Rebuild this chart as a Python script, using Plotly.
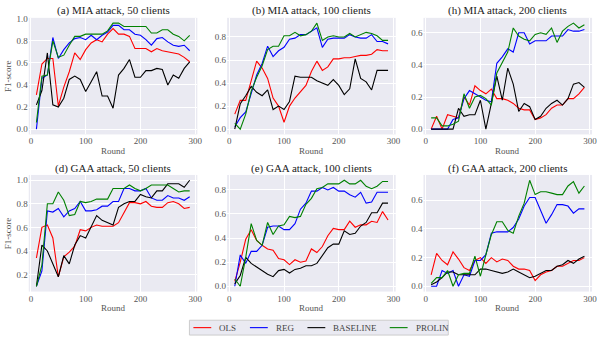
import plotly.graph_objects as go
from plotly.subplots import make_subplots

ROUNDS = list(range(10, 300, 10))

TITLES = ["(a) MIA attack, 50 clients", "(b) MIA attack, 100 clients", "(h) MIA attack, 200 clients",
          "(d) GAA attack, 50 clients", "(e) GAA attack, 100 clients", "(f) GAA attack, 200 clients"]

# (a) MIA, 50 clients
a_ols = [0.31, 0.59, 0.64, 0.64, 0.21, 0.38, 0.52, 0.69, 0.63, 0.72, 0.78, 0.81, 0.79, 0.86, 0.91,
         0.86, 0.86, 0.84, 0.73, 0.73, 0.73, 0.70, 0.73, 0.71, 0.70, 0.69, 0.68, 0.65, 0.61]
a_reg = [0.00, 0.46, 0.49, 0.83, 0.64, 0.72, 0.78, 0.82, 0.83, 0.81, 0.85, 0.81, 0.85, 0.88, 0.94,
         0.94, 0.90, 0.90, 0.86, 0.85, 0.81, 0.76, 0.82, 0.83, 0.79, 0.76, 0.75, 0.76, 0.71]
a_base = [0.22, 0.35, 0.69, 0.22, 0.20, 0.28, 0.45, 0.48, 0.45, 0.34, 0.43, 0.52, 0.30, 0.30, 0.19,
          0.49, 0.55, 0.63, 0.47, 0.47, 0.53, 0.53, 0.55, 0.54, 0.40, 0.49, 0.46, 0.55, 0.61]
a_prolin = [0.06, 0.48, 0.49, 0.80, 0.65, 0.67, 0.76, 0.84, 0.84, 0.86, 0.86, 0.86, 0.86, 0.89, 0.96,
            0.96, 0.93, 0.93, 0.93, 0.93, 0.93, 0.87, 0.87, 0.90, 0.90, 0.86, 0.84, 0.80, 0.85]

# (b) MIA, 100 clients
b_ols = [0.13, 0.25, 0.25, 0.42, 0.59, 0.53, 0.44, 0.27, 0.20, 0.06, 0.20, 0.27, 0.33, 0.38, 0.50,
         0.59, 0.51, 0.54, 0.61, 0.61, 0.62, 0.62, 0.63, 0.64, 0.64, 0.65, 0.69, 0.68, 0.68]
b_reg = [0.02, 0.10, 0.15, 0.32, 0.47, 0.57, 0.72, 0.63, 0.68, 0.71, 0.78, 0.79, 0.82, 0.82, 0.85,
         0.88, 0.71, 0.78, 0.79, 0.79, 0.79, 0.82, 0.80, 0.79, 0.79, 0.82, 0.76, 0.76, 0.74]
b_base = [0.00, 0.22, 0.29, 0.37, 0.32, 0.29, 0.34, 0.17, 0.20, 0.17, 0.24, 0.46, 0.45, 0.45, 0.45,
          0.42, 0.40, 0.38, 0.43, 0.38, 0.30, 0.35, 0.61, 0.44, 0.41, 0.34, 0.51, 0.51, 0.51]
b_prolin = [0.05, 0.00, 0.13, 0.33, 0.45, 0.55, 0.69, 0.72, 0.72, 0.81, 0.81, 0.84, 0.81, 0.82, 0.85,
            0.92, 0.77, 0.80, 0.81, 0.80, 0.80, 0.83, 0.80, 0.82, 0.84, 0.83, 0.81, 0.77, 0.77]

# (h) MIA, 200 clients
c_ols = [0.00, 0.08, 0.00, 0.09, 0.08, 0.07, 0.20, 0.15, 0.27, 0.24, 0.22, 0.25, 0.19, 0.19, 0.18,
         0.16, 0.13, 0.12, 0.12, 0.06, 0.07, 0.09, 0.13, 0.15, 0.15, 0.19, 0.19, 0.22, 0.26]
c_reg = [0.00, 0.00, 0.00, 0.00, 0.06, 0.07, 0.19, 0.24, 0.22, 0.20, 0.18, 0.17, 0.41, 0.45, 0.50,
         0.48, 0.60, 0.60, 0.53, 0.55, 0.55, 0.55, 0.58, 0.58, 0.58, 0.62, 0.61, 0.61, 0.62]
c_base = [0.00, 0.00, 0.00, 0.00, 0.00, 0.13, 0.08, 0.09, 0.09, 0.18, 0.00, 0.16, 0.33, 0.18, 0.38,
          0.28, 0.11, 0.16, 0.14, 0.06, 0.08, 0.13, 0.16, 0.18, 0.15, 0.19, 0.28, 0.29, 0.26]
c_prolin = [0.07, 0.07, 0.02, 0.02, 0.03, 0.05, 0.22, 0.13, 0.20, 0.21, 0.19, 0.15, 0.35, 0.42, 0.48,
            0.63, 0.58, 0.56, 0.55, 0.59, 0.60, 0.59, 0.63, 0.54, 0.61, 0.64, 0.66, 0.63, 0.65]

# (d) GAA, 50 clients
d_ols = [0.34, 0.60, 0.62, 0.51, 0.18, 0.35, 0.39, 0.44, 0.58, 0.57, 0.60, 0.62, 0.61, 0.61, 0.61,
         0.64, 0.73, 0.81, 0.81, 0.80, 0.82, 0.78, 0.77, 0.77, 0.81, 0.82, 0.80, 0.76, 0.77]
d_reg = [0.10, 0.23, 0.74, 0.73, 0.76, 0.69, 0.74, 0.76, 0.82, 0.74, 0.74, 0.75, 0.78, 0.78, 0.82,
         0.82, 0.93, 0.93, 0.91, 0.91, 0.93, 0.85, 0.83, 0.83, 0.87, 0.85, 0.85, 0.83, 0.86]
d_base = [0.10, 0.45, 0.40, 0.29, 0.18, 0.36, 0.29, 0.45, 0.53, 0.51, 0.60, 0.70, 0.66, 0.64, 0.62,
          0.77, 0.80, 0.82, 0.82, 0.88, 0.86, 0.85, 0.91, 0.91, 0.97, 0.97, 0.97, 0.94, 1.00]
d_prolin = [0.10, 0.28, 0.80, 0.80, 0.90, 0.83, 0.70, 0.71, 0.82, 0.81, 0.82, 0.84, 0.84, 0.84, 0.93,
            0.93, 0.93, 0.96, 0.93, 0.91, 0.93, 0.96, 0.96, 0.96, 0.96, 0.93, 0.90, 0.91, 0.91]

# (e) GAA, 100 clients
e_ols = [0.04, 0.20, 0.39, 0.47, 0.38, 0.34, 0.31, 0.30, 0.23, 0.22, 0.18, 0.22, 0.20, 0.21, 0.31,
         0.28, 0.33, 0.42, 0.48, 0.47, 0.47, 0.54, 0.49, 0.51, 0.51, 0.54, 0.53, 0.62, 0.55]
e_reg = [0.00, 0.26, 0.19, 0.29, 0.29, 0.34, 0.49, 0.50, 0.50, 0.47, 0.47, 0.52, 0.64, 0.69, 0.79,
         0.79, 0.82, 0.80, 0.82, 0.79, 0.79, 0.76, 0.74, 0.78, 0.69, 0.70, 0.78, 0.78, 0.78]
e_base = [0.02, 0.09, 0.24, 0.19, 0.16, 0.13, 0.10, 0.08, 0.13, 0.14, 0.11, 0.14, 0.15, 0.17, 0.17,
          0.19, 0.26, 0.32, 0.35, 0.35, 0.46, 0.43, 0.44, 0.50, 0.53, 0.61, 0.61, 0.69, 0.69]
e_prolin = [0.06, 0.00, 0.24, 0.52, 0.38, 0.34, 0.53, 0.43, 0.50, 0.51, 0.58, 0.57, 0.58, 0.68, 0.73,
            0.81, 0.82, 0.85, 0.85, 0.85, 0.88, 0.85, 0.85, 0.88, 0.83, 0.81, 0.83, 0.87, 0.87]

# (f) GAA, 200 clients
f_ols = [0.08, 0.23, 0.18, 0.15, 0.24, 0.19, 0.13, 0.11, 0.18, 0.20, 0.16, 0.20, 0.17, 0.19, 0.18,
         0.14, 0.12, 0.12, 0.11, 0.04, 0.08, 0.10, 0.11, 0.14, 0.14, 0.16, 0.18, 0.18, 0.20]
f_reg = [0.00, 0.00, 0.11, 0.09, 0.11, 0.00, 0.08, 0.07, 0.18, 0.18, 0.22, 0.37, 0.38, 0.38, 0.38,
         0.41, 0.47, 0.56, 0.62, 0.62, 0.53, 0.44, 0.50, 0.57, 0.57, 0.56, 0.51, 0.54, 0.54]
f_base = [0.01, 0.03, 0.06, 0.10, 0.10, 0.08, 0.08, 0.08, 0.08, 0.12, 0.12, 0.11, 0.10, 0.09, 0.10,
          0.12, 0.10, 0.08, 0.06, 0.07, 0.09, 0.11, 0.11, 0.14, 0.15, 0.18, 0.16, 0.19, 0.21]
f_prolin = [0.02, 0.06, 0.06, 0.11, 0.00, 0.08, 0.09, 0.09, 0.21, 0.07, 0.22, 0.36, 0.45, 0.45, 0.39,
            0.37, 0.49, 0.58, 0.74, 0.64, 0.66, 0.66, 0.65, 0.64, 0.64, 0.70, 0.73, 0.65, 0.70]

PANELS = [
    (a_ols, a_reg, a_base, a_prolin),
    (b_ols, b_reg, b_base, b_prolin),
    (c_ols, c_reg, c_base, c_prolin),
    (d_ols, d_reg, d_base, d_prolin),
    (e_ols, e_reg, e_base, e_prolin),
    (f_ols, f_reg, f_base, f_prolin),
]
NAMES = ["OLS", "REG", "BASELINE", "PROLIN"]
COLORS = ["#ff0000", "#0000ff", "#000000", "#008000"]
Y_TICKS = [
    [0.0, 0.2, 0.4, 0.6, 0.8, 1.0],
    [0.0, 0.2, 0.4, 0.6, 0.8],
    [0.0, 0.2, 0.4, 0.6],
    [0.2, 0.4, 0.6, 0.8, 1.0],
    [0.0, 0.2, 0.4, 0.6, 0.8],
    [0.0, 0.2, 0.4, 0.6],
]
X_TICKS = [0, 100, 200, 300]

W, H = 605, 339
FONT = "Liberation Serif"
BG = "#eaeaf2"
GREY = "#555555"
# plot areas in pixels (left, right) / (top, bottom)
COLS_PX = [(29, 199), (229, 399), (427, 597)]
ROWS_PX = [(14, 132), (173, 291)]


def px(x, y):
    """pixel (from top-left) -> paper coords"""
    return x / W, 1 - y / H


fig = make_subplots(rows=2, cols=3)

for i, panel in enumerate(PANELS):
    r, c = i // 3 + 1, i % 3 + 1
    for j, vals in enumerate(panel):
        fig.add_trace(go.Scatter(
            x=ROUNDS, y=vals, mode="lines", name=NAMES[j],
            line=dict(color=COLORS[j], width=1.1),
            showlegend=False,
        ), row=r, col=c)

    # matplotlib-style 5% autoscale margins
    allv = [v for s in panel for v in s]
    lo, hi = min(allv), max(allv)
    pad = (hi - lo) * 0.05
    xpad = (ROUNDS[-1] - ROUNDS[0]) * 0.05

    x0, x1 = COLS_PX[c - 1]
    y0, y1 = ROWS_PX[r - 1]
    fig.update_xaxes(
        domain=[x0 / W, x1 / W], range=[ROUNDS[0] - xpad, ROUNDS[-1] + xpad],
        tickvals=X_TICKS, showgrid=True, gridcolor="white", gridwidth=1,
        zeroline=False, showline=False, ticks="",
        tickfont=dict(family=FONT, size=9, color=GREY),
        row=r, col=c,
    )
    fig.update_yaxes(
        domain=[1 - y1 / H, 1 - y0 / H], range=[lo - pad, hi + pad],
        tickvals=Y_TICKS[i], tickformat=".1f", showgrid=True, gridcolor="white", gridwidth=1,
        zeroline=False, showline=False, ticks="",
        tickfont=dict(family=FONT, size=9, color=GREY),
        row=r, col=c,
    )

    # panel title and x label
    xc = (x0 + x1) / 2
    tx, ty = px(xc, y0 - 7)
    fig.add_annotation(text=TITLES[i], x=tx, y=ty, xref="paper", yref="paper",
                       xanchor="center", yanchor="middle", showarrow=False,
                       font=dict(family=FONT, size=11, color="#222222"))
    lx, ly = px(xc, y1 + 17)
    fig.add_annotation(text="Round", x=lx, y=ly, xref="paper", yref="paper",
                       xanchor="center", yanchor="middle", showarrow=False,
                       font=dict(family=FONT, size=9, color=GREY))

for r in (1, 2):
    y0, y1 = ROWS_PX[r - 1]
    fx, fy = px(8, (y0 + y1) / 2)
    fig.add_annotation(text="F1-score", x=fx, y=fy, xref="paper", yref="paper",
                       xanchor="center", yanchor="middle", textangle=-90, showarrow=False,
                       font=dict(family=FONT, size=9, color=GREY))

# legend box drawn in matplotlib style (short handles)
LEG_LEFT, LEG_RIGHT, LEG_TOP, LEG_BOTTOM = 191, 452, 320, 335
LEG_HANDLE_X = [195, 252, 310, 393]
fig.add_shape(type="rect", xref="paper", yref="paper",
              x0=LEG_LEFT / W, x1=LEG_RIGHT / W, y0=1 - LEG_BOTTOM / H, y1=1 - LEG_TOP / H,
              fillcolor=BG, line=dict(color="#cccccc", width=1))
ly = 1 - (LEG_TOP + LEG_BOTTOM) / 2 / H
for name, color, hx in zip(NAMES, COLORS, LEG_HANDLE_X):
    fig.add_shape(type="line", xref="paper", yref="paper",
                  x0=hx / W, x1=(hx + 18) / W, y0=ly, y1=ly,
                  line=dict(color=color, width=1.1))
    fig.add_annotation(text=name, x=(hx + 24) / W, y=ly, xref="paper", yref="paper",
                       xanchor="left", yanchor="middle", showarrow=False,
                       font=dict(family=FONT, size=9, color="#444444"))

fig.update_layout(
    width=W, height=H,
    margin=dict(l=0, r=0, t=0, b=0),
    plot_bgcolor=BG, paper_bgcolor="white",
    showlegend=False,
)

# drop the browser's default body margin so the figure sits at (0, 0)
fig.write_html("out.html", config={"displayModeBar": False},
               post_script="document.body.style.margin = '0';")
